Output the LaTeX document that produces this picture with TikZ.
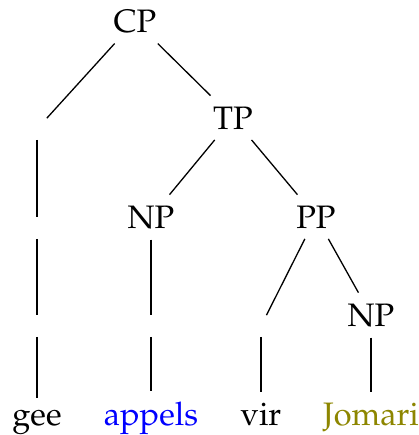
\documentclass[tikz,border=0pt]{standalone}
\usepackage[T1]{fontenc}
\usepackage{mathpazo}
\begin{document}
\begin{tikzpicture}[x=0.3077pt, y=-0.3077pt,
  tn/.style={anchor=base, inner sep=3.33pt, outer sep=0pt},
  en/.style={anchor=base, inner sep=3.33pt, outer sep=0pt},
  edge/.style={draw=black, line width=0.4pt}]
\useasboundingbox (0,0) rectangle (419,435);
% level 0
\node[tn] (cp) at (135,32) {CP};
% level 1
\node[en] (e1) at (37,129) {};
\node[tn] (tp) at (233,129) {TP};
% level 2
\node[en] (e2) at (37,228) {};
\node[tn] (np1) at (151,228) {NP};
\node[tn] (pp) at (316,228) {PP};
% level 3
\node[en] (e3) at (37,326) {};
\node[en] (e4) at (151,326) {};
\node[en] (e5) at (261,326) {};
\node[tn] (np2) at (371,326) {NP};
% words
\node[tn] (w1) at (37,425) {gee};
\node[tn] (w2) at (151,425) {\textcolor{blue}{appels}};
\node[tn] (w3) at (261,425) {vir};
\node[tn] (w4) at (371,425) {\textcolor{olive}{Jomari}};
% branches
\draw[edge] (cp) -- (e1);
\draw[edge] (cp) -- (tp);
\draw[edge] (e1) -- (e2);
\draw[edge] (tp) -- (np1);
\draw[edge] (tp) -- (pp);
\draw[edge] (e2) -- (e3);
\draw[edge] (np1) -- (e4);
\draw[edge] (pp) -- (e5);
\draw[edge] (pp) -- (np2);
\draw[edge] (e3) -- (w1);
\draw[edge] (e4) -- (w2);
\draw[edge] (e5) -- (w3);
\draw[edge] (np2) -- (w4);
\end{tikzpicture}
\end{document}
